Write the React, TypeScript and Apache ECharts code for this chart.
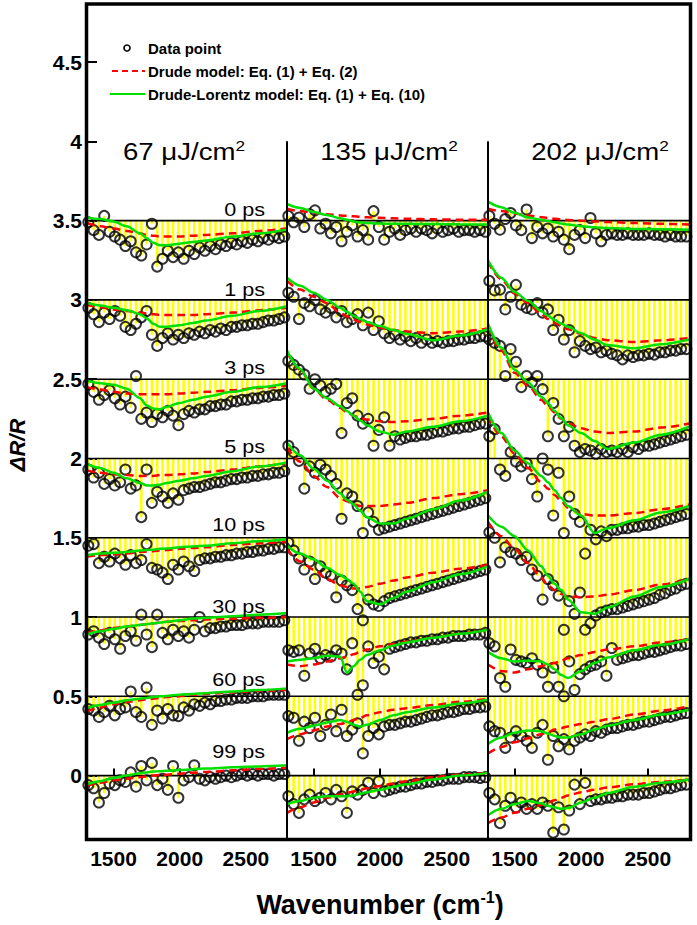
import React, { useEffect, useRef } from "react";
import * as echarts from "echarts";

// ---------------- data ----------------
const DELAYS = ["0 ps", "1 ps", "3 ps", "5 ps", "10 ps", "30 ps", "60 ps", "99 ps"];
const OFFSETS = [3.5, 3, 2.5, 2, 1.5, 1, 0.5, 0];
const FLUENCES = ["67", "135", "202"];
const X_TICKS = [1500, 2000, 2500];
const Y_TICKS = [0, 0.5, 1, 1.5, 2, 2.5, 3, 3.5, 4, 4.5];

// wavenumbers of the measured points (cm-1)
const X_DATA = [1310, 1350, 1390, 1430, 1470, 1510, 1550, 1590, 1630, 1670, 1710, 1750, 1790, 1830, 1870, 1910, 1950, 1990, 2030, 2070, 2110, 2150, 2190, 2230, 2270, 2310, 2350, 2390, 2430, 2470, 2510, 2550, 2590, 2630, 2670, 2710, 2750, 2790];
// wavenumbers of the model curves (cm-1)
const X_MODEL = [1300, 1400, 1500, 1600, 1700, 1750, 1800, 1850, 1900, 2000, 2100, 2200, 2400, 2600, 2810];

// data points, relative to each trace's baseline (0,1,3,5,10,30,60,99 ps)
const DATA_67 = [
  [-0.01, -0.06, -0.09, 0.03, -0.07, -0.10, -0.12, -0.16, -0.13, -0.20, -0.22, -0.15, -0.02, -0.29, -0.24, -0.19, -0.23, -0.20, -0.24, -0.19, -0.21, -0.17, -0.19, -0.16, -0.18, -0.15, -0.16, -0.14, -0.15, -0.13, -0.14, -0.12, -0.13, -0.11, -0.12, -0.10, -0.11, -0.10],
  [-0.05, -0.09, -0.14, -0.08, -0.12, -0.07, -0.10, -0.17, -0.19, -0.15, -0.11, -0.07, -0.22, -0.29, -0.24, -0.21, -0.25, -0.22, -0.24, -0.21, -0.22, -0.20, -0.21, -0.19, -0.20, -0.18, -0.19, -0.17, -0.17, -0.16, -0.16, -0.15, -0.15, -0.14, -0.13, -0.13, -0.12, -0.11],
  [-0.03, -0.08, -0.13, -0.10, -0.07, -0.12, -0.16, -0.11, -0.18, 0.02, -0.25, -0.21, -0.27, -0.22, -0.24, -0.20, -0.23, -0.29, -0.22, -0.20, -0.21, -0.19, -0.19, -0.17, -0.17, -0.16, -0.16, -0.14, -0.14, -0.13, -0.13, -0.12, -0.12, -0.11, -0.11, -0.10, -0.10, -0.09],
  [-0.07, -0.12, -0.09, -0.16, -0.13, -0.17, -0.15, -0.07, -0.19, -0.17, -0.37, -0.07, -0.28, -0.21, -0.24, -0.28, -0.22, -0.26, -0.20, -0.19, -0.18, -0.18, -0.17, -0.16, -0.15, -0.15, -0.14, -0.13, -0.13, -0.12, -0.12, -0.11, -0.11, -0.10, -0.10, -0.09, -0.09, -0.08],
  [-0.05, -0.04, -0.16, -0.12, -0.15, -0.10, -0.13, -0.17, -0.11, -0.16, -0.14, -0.04, -0.19, -0.20, -0.22, -0.26, -0.17, -0.20, -0.15, -0.18, -0.21, -0.14, -0.13, -0.13, -0.12, -0.12, -0.11, -0.11, -0.10, -0.10, -0.09, -0.09, -0.08, -0.08, -0.07, -0.07, -0.06, -0.06],
  [-0.11, -0.09, -0.13, -0.17, -0.10, -0.14, -0.20, -0.12, -0.09, -0.15, 0.015, -0.11, -0.19, 0.015, -0.10, -0.14, -0.08, -0.12, -0.09, -0.13, -0.08, 0.0, -0.09, -0.07, -0.07, -0.06, -0.06, -0.05, -0.05, -0.05, -0.04, -0.04, -0.04, -0.03, -0.03, -0.03, -0.03, -0.02],
  [-0.08, -0.09, -0.13, -0.10, -0.06, -0.12, -0.08, -0.07, 0.03, -0.10, -0.13, 0.055, -0.18, -0.09, -0.14, -0.08, -0.12, -0.125, -0.07, -0.09, -0.05, -0.06, -0.04, -0.05, -0.03, -0.03, -0.02, -0.02, -0.01, -0.01, -0.01, 0.0, 0.0, 0.0, 0.01, 0.01, 0.01, 0.01],
  [-0.06, -0.08, -0.17, -0.11, -0.05, -0.06, -0.03, -0.04, 0.02, -0.07, 0.06, -0.03, 0.08, -0.06, -0.02, -0.09, 0.06, -0.14, -0.03, -0.01, 0.065, -0.02, -0.03, -0.01, -0.02, -0.01, 0.0, -0.01, 0.0, 0.01, 0.0, 0.01, 0.0, 0.01, 0.01, 0.0, 0.01, 0.01],
];
const DRUDE_67 = [
  [-0.015, -0.035, -0.05, -0.065, -0.08, -0.09, -0.095, -0.1, -0.1, -0.1, -0.095, -0.09, -0.08, -0.065, -0.05],
  [-0.03, -0.045, -0.06, -0.07, -0.08, -0.085, -0.09, -0.095, -0.095, -0.095, -0.095, -0.09, -0.08, -0.065, -0.05],
  [-0.05, -0.065, -0.08, -0.09, -0.095, -0.095, -0.095, -0.095, -0.095, -0.09, -0.085, -0.08, -0.07, -0.055, -0.04],
  [-0.075, -0.09, -0.1, -0.105, -0.11, -0.11, -0.11, -0.105, -0.105, -0.1, -0.095, -0.085, -0.07, -0.05, -0.03],
  [-0.12, -0.11, -0.105, -0.1, -0.09, -0.088, -0.085, -0.08, -0.078, -0.07, -0.065, -0.06, -0.045, -0.035, -0.025],
  [-0.1, -0.085, -0.07, -0.06, -0.05, -0.045, -0.04, -0.035, -0.03, -0.025, -0.02, -0.015, -0.01, -0.005, 0.0],
  [-0.095, -0.07, -0.05, -0.035, -0.025, -0.02, -0.015, -0.01, -0.005, 0.0, 0.01, 0.015, 0.025, 0.035, 0.04],
  [-0.065, -0.045, -0.03, -0.02, -0.01, -0.005, 0.0, 0.003, 0.006, 0.012, 0.018, 0.023, 0.033, 0.042, 0.05],
];
const LORENTZ_67 = [
  [0.02, 0.01, -0.005, -0.035, -0.08, -0.11, -0.14, -0.155, -0.155, -0.145, -0.135, -0.125, -0.1, -0.08, -0.055],
  [-0.02, -0.035, -0.05, -0.065, -0.09, -0.115, -0.15, -0.17, -0.17, -0.16, -0.145, -0.13, -0.1, -0.07, -0.04],
  [-0.01, -0.025, -0.035, -0.06, -0.12, -0.165, -0.185, -0.19, -0.175, -0.15, -0.13, -0.11, -0.08, -0.05, -0.025],
  [-0.035, -0.06, -0.09, -0.125, -0.155, -0.17, -0.17, -0.165, -0.155, -0.14, -0.125, -0.11, -0.08, -0.05, -0.025],
  [-0.11, -0.1, -0.095, -0.09, -0.08, -0.078, -0.075, -0.07, -0.068, -0.06, -0.055, -0.05, -0.035, -0.022, -0.01],
  [-0.11, -0.09, -0.075, -0.06, -0.05, -0.045, -0.04, -0.035, -0.03, -0.02, -0.01, -0.005, 0.005, 0.015, 0.025],
  [-0.075, -0.055, -0.04, -0.025, -0.015, -0.01, -0.005, 0.0, 0.002, 0.01, 0.015, 0.02, 0.03, 0.04, 0.05],
  [-0.055, -0.035, -0.015, 0.0, 0.015, 0.02, 0.025, 0.028, 0.03, 0.035, 0.04, 0.045, 0.052, 0.058, 0.065],
];

const DATA_135 = [
  [0.03, -0.01, 0.02, -0.04, 0.04, 0.065, -0.05, -0.02, -0.08, -0.04, -0.13, -0.07, -0.03, -0.10, -0.06, -0.12, 0.06, -0.04, -0.12, -0.07, -0.05, -0.09, -0.06, -0.05, -0.07, -0.05, -0.06, -0.08, -0.05, -0.07, -0.06, -0.05, -0.07, -0.06, -0.06, -0.07, -0.06, -0.07],
  [0.045, 0.02, -0.12, -0.02, -0.04, 0.0, -0.06, -0.08, -0.05, -0.11, -0.07, -0.14, -0.12, -0.09, -0.16, -0.08, -0.19, -0.135, -0.21, -0.24, -0.22, -0.25, -0.23, -0.26, -0.24, -0.27, -0.25, -0.27, -0.26, -0.27, -0.26, -0.26, -0.25, -0.25, -0.24, -0.24, -0.23, -0.23],
  [0.115, 0.09, 0.06, 0.03, -0.06, 0.0, -0.04, -0.08, -0.06, -0.03, -0.34, -0.15, -0.12, -0.23, -0.28, -0.25, -0.42, -0.32, -0.24, -0.42, -0.36, -0.38, -0.37, -0.36, -0.36, -0.35, -0.35, -0.34, -0.33, -0.33, -0.32, -0.31, -0.31, -0.30, -0.30, -0.29, -0.28, -0.28],
  [0.08, 0.04, -0.015, -0.19, -0.05, -0.09, -0.04, -0.07, -0.11, -0.16, -0.38, -0.22, -0.24, -0.30, -0.47, -0.34, -0.40, -0.45, -0.44, -0.43, -0.42, -0.41, -0.40, -0.39, -0.38, -0.37, -0.36, -0.35, -0.34, -0.33, -0.32, -0.31, -0.30, -0.29, -0.28, -0.27, -0.26, -0.25],
  [-0.03, -0.08, -0.13, -0.20, -0.15, -0.26, -0.18, -0.22, -0.24, -0.375, -0.27, -0.30, -0.33, -0.45, -0.52, -0.39, -0.42, -0.43, -0.40, -0.38, -0.37, -0.36, -0.35, -0.34, -0.33, -0.32, -0.31, -0.30, -0.29, -0.28, -0.27, -0.26, -0.25, -0.24, -0.23, -0.22, -0.21, -0.20],
  [-0.21, -0.22, -0.21, -0.37, -0.23, -0.20, -0.26, -0.24, -0.25, -0.21, -0.23, -0.33, -0.165, -0.49, -0.43, -0.185, -0.29, -0.25, -0.33, -0.20, -0.19, -0.18, -0.17, -0.16, -0.16, -0.15, -0.15, -0.14, -0.14, -0.13, -0.13, -0.12, -0.12, -0.12, -0.11, -0.11, -0.11, -0.10],
  [-0.125, -0.135, -0.28, -0.16, -0.20, -0.135, -0.25, -0.18, -0.115, -0.22, -0.085, -0.25, -0.21, -0.17, -0.36, -0.25, -0.20, -0.24, -0.19, -0.18, -0.18, -0.17, -0.16, -0.16, -0.15, -0.14, -0.13, -0.12, -0.12, -0.11, -0.10, -0.10, -0.09, -0.08, -0.08, -0.07, -0.07, -0.065],
  [-0.13, -0.18, -0.235, -0.15, -0.12, -0.16, -0.14, -0.11, -0.15, -0.09, -0.13, -0.235, -0.10, -0.12, -0.09, -0.045, -0.11, -0.036, -0.10, -0.09, -0.08, -0.07, -0.07, -0.06, -0.05, -0.05, -0.04, -0.04, -0.03, -0.03, -0.02, -0.02, -0.02, -0.01, -0.01, -0.01, -0.015, -0.01],
];
const DRUDE_135 = [
  [0.075, 0.06, 0.05, 0.04, 0.033, 0.03, 0.027, 0.024, 0.021, 0.018, 0.015, 0.012, 0.008, 0.006, 0.005],
  [0.12, 0.065, 0.02, -0.02, -0.08, -0.105, -0.125, -0.14, -0.155, -0.175, -0.19, -0.2, -0.21, -0.2, -0.18],
  [0.17, 0.06, -0.06, -0.13, -0.18, -0.21, -0.23, -0.245, -0.255, -0.265, -0.27, -0.265, -0.25, -0.23, -0.21],
  [0.07, -0.02, -0.11, -0.18, -0.25, -0.27, -0.29, -0.3, -0.3, -0.3, -0.29, -0.28, -0.25, -0.225, -0.2],
  [-0.07, -0.15, -0.2, -0.26, -0.3, -0.31, -0.32, -0.32, -0.31, -0.29, -0.27, -0.25, -0.22, -0.195, -0.17],
  [-0.3, -0.31, -0.3, -0.28, -0.26, -0.25, -0.235, -0.22, -0.205, -0.185, -0.17, -0.155, -0.13, -0.105, -0.08],
  [-0.27, -0.24, -0.215, -0.19, -0.175, -0.165, -0.15, -0.135, -0.12, -0.1, -0.085, -0.075, -0.055, -0.035, -0.015],
  [-0.235, -0.2, -0.17, -0.14, -0.12, -0.11, -0.1, -0.09, -0.08, -0.065, -0.05, -0.035, -0.01, 0.005, 0.017],
];
const LORENTZ_135 = [
  [0.105, 0.08, 0.055, 0.035, 0.015, 0.005, -0.005, -0.012, -0.015, -0.018, -0.02, -0.02, -0.022, -0.023, -0.025],
  [0.14, 0.09, 0.045, 0.0, -0.05, -0.075, -0.1, -0.12, -0.14, -0.165, -0.19, -0.215, -0.255, -0.225, -0.185],
  [0.18, 0.065, -0.06, -0.12, -0.17, -0.2, -0.23, -0.26, -0.29, -0.33, -0.35, -0.33, -0.3, -0.265, -0.23],
  [0.1, 0.02, -0.065, -0.14, -0.22, -0.26, -0.29, -0.33, -0.37, -0.41, -0.41, -0.38, -0.32, -0.265, -0.21],
  [-0.05, -0.1, -0.135, -0.19, -0.235, -0.26, -0.29, -0.34, -0.4, -0.42, -0.38, -0.34, -0.28, -0.23, -0.18],
  [-0.28, -0.27, -0.26, -0.245, -0.25, -0.35, -0.31, -0.27, -0.24, -0.21, -0.18, -0.16, -0.13, -0.105, -0.08],
  [-0.23, -0.205, -0.185, -0.165, -0.15, -0.16, -0.18, -0.19, -0.18, -0.15, -0.12, -0.1, -0.07, -0.045, -0.02],
  [-0.18, -0.16, -0.14, -0.13, -0.13, -0.13, -0.125, -0.115, -0.105, -0.09, -0.07, -0.055, -0.025, 0.0, 0.017],
];

const DATA_202 = [
  [0.03, -0.02, -0.057, 0.01, 0.048, -0.03, -0.06, 0.07, -0.11, -0.04, -0.08, -0.05, -0.10, -0.07, -0.12, -0.18, -0.09, -0.06, -0.11, 0.017, -0.08, -0.13, -0.09, -0.08, -0.09, -0.09, -0.08, -0.09, -0.09, -0.09, -0.08, -0.09, -0.09, -0.10, -0.09, -0.10, -0.10, -0.10],
  [0.12, 0.06, 0.065, -0.06, 0.02, 0.095, -0.03, -0.05, -0.06, -0.02, -0.08, -0.06, -0.19, -0.125, -0.25, -0.19, -0.33, -0.26, -0.29, -0.31, -0.30, -0.33, -0.32, -0.34, -0.35, -0.375, -0.35, -0.36, -0.35, -0.35, -0.34, -0.345, -0.33, -0.33, -0.32, -0.32, -0.31, -0.31],
  [0.25, 0.23, 0.21, 0.02, 0.19, 0.11, -0.05, 0.02, -0.02, 0.02, -0.063, -0.36, -0.15, -0.25, -0.36, -0.30, -0.42, -0.46, -0.44, -0.45, -0.47, -0.44, -0.46, -0.45, -0.46, -0.44, -0.46, -0.43, -0.44, -0.42, -0.42, -0.41, -0.40, -0.39, -0.38, -0.37, -0.36, -0.35],
  [0.14, 0.185, -0.07, -0.11, 0.04, -0.02, -0.05, -0.03, -0.13, -0.24, 0.0, -0.07, -0.36, -0.09, -0.47, -0.24, -0.35, -0.40, -0.60, -0.45, -0.51, -0.46, -0.49, -0.45, -0.45, -0.44, -0.44, -0.43, -0.43, -0.42, -0.42, -0.41, -0.40, -0.39, -0.38, -0.37, -0.36, -0.35],
  [0.034, 0.0, -0.155, -0.06, -0.09, -0.10, -0.14, -0.12, -0.20, -0.24, -0.39, -0.26, -0.30, -0.365, -0.58, -0.40, -0.48, -0.345, -0.58, -0.54, -0.49, -0.47, -0.46, -0.45, -0.45, -0.44, -0.43, -0.42, -0.41, -0.40, -0.39, -0.38, -0.36, -0.35, -0.33, -0.32, -0.30, -0.29],
  [-0.165, -0.185, -0.385, -0.44, -0.205, -0.27, -0.28, -0.29, -0.26, -0.30, -0.35, -0.44, -0.32, -0.44, -0.5, -0.28, -0.46, -0.36, -0.33, -0.31, -0.30, -0.28, -0.37, -0.195, -0.27, -0.26, -0.25, -0.24, -0.24, -0.23, -0.22, -0.22, -0.21, -0.20, -0.19, -0.18, -0.18, -0.17],
  [-0.19, -0.22, -0.23, -0.325, -0.26, -0.22, -0.25, -0.28, -0.325, -0.23, -0.18, -0.4, -0.25, -0.315, -0.27, -0.335, -0.28, -0.26, -0.24, -0.25, -0.22, -0.23, -0.21, -0.2, -0.2, -0.19, -0.18, -0.18, -0.17, -0.16, -0.16, -0.15, -0.14, -0.13, -0.13, -0.12, -0.11, -0.105],
  [-0.11, -0.15, -0.3, -0.19, -0.14, -0.2, -0.17, -0.21, -0.18, -0.21, -0.17, -0.19, -0.36, -0.20, -0.34, -0.22, -0.057, -0.18, -0.046, -0.16, -0.15, -0.15, -0.14, -0.14, -0.13, -0.13, -0.12, -0.12, -0.12, -0.11, -0.11, -0.10, -0.09, -0.08, -0.08, -0.07, -0.06, -0.057],
];
const DRUDE_202 = [
  [0.075, 0.06, 0.045, 0.032, 0.022, 0.017, 0.012, 0.008, 0.004, 0.0, -0.005, -0.009, -0.015, -0.02, -0.025],
  [0.24, 0.13, 0.04, -0.02, -0.09, -0.12, -0.145, -0.165, -0.185, -0.215, -0.24, -0.255, -0.265, -0.255, -0.24],
  [0.33, 0.18, 0.04, -0.04, -0.13, -0.17, -0.21, -0.25, -0.28, -0.31, -0.33, -0.34, -0.33, -0.305, -0.28],
  [0.27, 0.14, 0.03, -0.06, -0.15, -0.19, -0.23, -0.27, -0.31, -0.35, -0.36, -0.36, -0.345, -0.32, -0.29],
  [0.1, 0.01, -0.07, -0.16, -0.25, -0.3, -0.33, -0.355, -0.37, -0.375, -0.37, -0.36, -0.33, -0.295, -0.26],
  [-0.3, -0.34, -0.35, -0.33, -0.31, -0.3, -0.29, -0.275, -0.26, -0.24, -0.22, -0.205, -0.185, -0.16, -0.14],
  [-0.36, -0.32, -0.29, -0.265, -0.24, -0.225, -0.21, -0.2, -0.19, -0.175, -0.16, -0.145, -0.115, -0.09, -0.063],
  [-0.3, -0.265, -0.235, -0.21, -0.185, -0.17, -0.155, -0.14, -0.125, -0.105, -0.09, -0.075, -0.055, -0.04, -0.025],
];
const LORENTZ_202 = [
  [0.12, 0.085, 0.05, 0.02, 0.005, -0.002, -0.01, -0.018, -0.025, -0.035, -0.042, -0.047, -0.052, -0.055, -0.057],
  [0.25, 0.14, 0.05, -0.005, -0.07, -0.1, -0.125, -0.15, -0.17, -0.21, -0.25, -0.285, -0.305, -0.28, -0.25],
  [0.35, 0.2, 0.06, -0.02, -0.11, -0.15, -0.2, -0.245, -0.29, -0.34, -0.39, -0.44, -0.4, -0.35, -0.3],
  [0.29, 0.16, 0.05, -0.03, -0.11, -0.15, -0.2, -0.25, -0.3, -0.36, -0.47, -0.44, -0.39, -0.34, -0.3],
  [0.14, 0.07, 0.01, -0.08, -0.18, -0.24, -0.29, -0.33, -0.39, -0.47, -0.48, -0.44, -0.37, -0.31, -0.26],
  [-0.22, -0.26, -0.28, -0.275, -0.28, -0.3, -0.33, -0.365, -0.385, -0.34, -0.29, -0.255, -0.21, -0.175, -0.14],
  [-0.3, -0.26, -0.23, -0.215, -0.22, -0.235, -0.25, -0.26, -0.26, -0.24, -0.21, -0.185, -0.15, -0.115, -0.085],
  [-0.25, -0.21, -0.18, -0.16, -0.175, -0.19, -0.2, -0.21, -0.205, -0.17, -0.14, -0.11, -0.07, -0.045, -0.025],
];

// ---------------- layout / style ----------------
const W = 697;
const H = 925;
const GRID_LEFT = [87, 287, 488];
const GRID_WIDTH = [200, 201, 201];
const GRID_TOP = 5;
const GRID_HEIGHT = 834;
const X_MIN = 1300;
const X_MAX = 2810;
const Y_MIN = -0.4;
const Y_MAX = 4.86;
const DIVIDER_TOP = 4.0;
const LABEL_X = 2645;
const LABEL_LIFT = [0.07, 0.065, 0.075, 0.075, 0.085, 0.065, 0.105, 0.15];
const FONT = '"Liberation Sans", Arial, Helvetica, sans-serif';
const RED = "#ff0000";
const GREEN = "#00e000";
const YELLOW = "#ffff00";

function buildOption(): any {
  const panels = [
    { data: DATA_67, drude: DRUDE_67, lor: LORENTZ_67 },
    { data: DATA_135, drude: DRUDE_135, lor: LORENTZ_135 },
    { data: DATA_202, drude: DRUDE_202, lor: LORENTZ_202 },
  ];

  const grid = GRID_LEFT.map((l, i) => ({
    left: l,
    top: GRID_TOP,
    width: GRID_WIDTH[i],
    height: GRID_HEIGHT,
    containLabel: false,
  }));

  const xAxis = panels.map((_, i) => ({
    type: "value",
    gridIndex: i,
    min: X_MIN,
    max: X_MAX,
    axisLine: { show: false },
    splitLine: { show: false },
    axisTick: {
      show: true,
      inside: true,
      length: 7,
      customValues: X_TICKS,
      lineStyle: { color: "#000", width: 2 },
    },
    axisLabel: {
      show: true,
      customValues: X_TICKS,
      color: "#000",
      fontFamily: FONT,
      fontWeight: "bold",
      fontSize: 21,
      margin: 9,
      formatter: (v: number) => String(v),
    },
  }));

  const yAxis = panels.map((_, i) => ({
    type: "value",
    gridIndex: i,
    min: Y_MIN,
    max: Y_MAX,
    axisLine: { show: false },
    splitLine: { show: false },
    axisTick:
      i === 0
        ? {
            show: true,
            inside: true,
            length: 10,
            customValues: Y_TICKS,
            lineStyle: { color: "#000", width: 2 },
          }
        : { show: false },
    axisLabel:
      i === 0
        ? {
            show: true,
            customValues: Y_TICKS,
            color: "#000",
            fontFamily: FONT,
            fontWeight: "bold",
            fontSize: 21,
            margin: 5,
            formatter: (v: number) => String(v),
          }
        : { show: false },
  }));

  const series: any[] = [];

  panels.forEach((p, pi) => {
    // yellow drop lines from each data point to its trace baseline
    const drops: number[][] = [];
    p.data.forEach((arr, ti) =>
      arr.forEach((d, k) => drops.push([X_DATA[k], OFFSETS[ti] + d, OFFSETS[ti]]))
    );
    series.push({
      type: "custom",
      coordinateSystem: "cartesian2d",
      xAxisIndex: pi,
      yAxisIndex: pi,
      data: drops,
      encode: { x: 0, y: [1, 2] },
      silent: true,
      z: 1,
      renderItem: (params: any, api: any) => {
        const a = api.coord([api.value(0), api.value(2)]);
        const b = api.coord([api.value(0), api.value(1)]);
        return {
          type: "line",
          shape: { x1: a[0], y1: a[1], x2: b[0], y2: b[1] },
          style: { stroke: YELLOW, lineWidth: 2.5 },
        };
      },
    });

    // baselines
    OFFSETS.forEach((o) => {
      series.push({
        type: "line",
        xAxisIndex: pi,
        yAxisIndex: pi,
        data: [
          [X_MIN, o],
          [X_MAX, o],
        ],
        symbol: "none",
        silent: true,
        z: 2,
        lineStyle: { color: "#000", width: 1.6 },
      });
    });

    // data points
    const pts: number[][] = [];
    p.data.forEach((arr, ti) => arr.forEach((d, k) => pts.push([X_DATA[k], OFFSETS[ti] + d])));
    series.push({
      type: "scatter",
      xAxisIndex: pi,
      yAxisIndex: pi,
      data: pts,
      symbol: "circle",
      symbolSize: 10,
      silent: true,
      z: 3,
      itemStyle: { color: "rgba(0,0,0,0)", borderColor: "#000", borderWidth: 2 },
    });

    // Drude model
    p.drude.forEach((arr, ti) => {
      series.push({
        type: "line",
        xAxisIndex: pi,
        yAxisIndex: pi,
        data: arr.map((d, k) => [X_MODEL[k], OFFSETS[ti] + d]),
        symbol: "none",
        smooth: 0.3,
        smoothMonotone: "x",
        silent: true,
        z: 4,
        lineStyle: { color: RED, width: 2.5, type: [8, 5] },
      });
    });

    // Drude-Lorentz model
    p.lor.forEach((arr, ti) => {
      series.push({
        type: "line",
        xAxisIndex: pi,
        yAxisIndex: pi,
        data: arr.map((d, k) => [X_MODEL[k], OFFSETS[ti] + d]),
        symbol: "none",
        smooth: 0.3,
        smoothMonotone: "x",
        silent: true,
        z: 5,
        lineStyle: { color: GREEN, width: 2.5 },
      });
    });

    // panel divider
    if (pi > 0) {
      series.push({
        type: "line",
        xAxisIndex: pi,
        yAxisIndex: pi,
        data: [
          [X_MIN, DIVIDER_TOP],
          [X_MIN, Y_MIN],
        ],
        symbol: "none",
        clip: false,
        silent: true,
        z: 6,
        lineStyle: { color: "#000", width: 2 },
      });
    }
  });

  // delay labels in the first panel
  series.push({
    type: "custom",
    coordinateSystem: "cartesian2d",
    xAxisIndex: 0,
    yAxisIndex: 0,
    data: DELAYS.map((t, i) => [LABEL_X, OFFSETS[i] + LABEL_LIFT[i]]),
    encode: { x: 0, y: 1 },
    silent: true,
    z: 7,
    clip: false,
    renderItem: (params: any, api: any) => {
      const pt = api.coord([api.value(0), api.value(1)]);
      return {
        type: "text",
        x: pt[0],
        y: pt[1],
        scaleX: 1.2,
        style: {
          text: DELAYS[params.dataIndex],
          fill: "#000",
          align: "right",
          verticalAlign: "middle",
          fontSize: 18,
          fontFamily: FONT,
        },
      };
    },
  });

  const titleCenters = [184, 389, 600];
  const graphic: any[] = [];
  FLUENCES.forEach((f, i) => {
    graphic.push({
      type: "text",
      x: titleCenters[i],
      y: 152,
      z: 50,
      scaleX: 1.15,
      style: {
        text: f + " \u03bcJ/cm{sup|2}",
        fill: "#000",
        fontSize: 24,
        fontFamily: FONT,
        align: "center",
        verticalAlign: "middle",
        lineHeight: 28,
        rich: {
          sup: { fontSize: 15, fontFamily: FONT, verticalAlign: "top", lineHeight: 15, fill: "#000" },
        },
      },
    });
  });

  // axis titles
  graphic.push({
    type: "text",
    x: 380,
    y: 905,
    z: 50,
    style: {
      text: "Wavenumber (cm{sup|-1})",
      fill: "#000",
      fontSize: 27,
      fontWeight: "bold",
      fontFamily: FONT,
      align: "center",
      verticalAlign: "middle",
      lineHeight: 32,
      rich: {
        sup: { fontSize: 16, fontWeight: "bold", fontFamily: FONT, verticalAlign: "top", lineHeight: 16, fill: "#000" },
      },
    },
  });
  graphic.push({
    type: "text",
    x: 17,
    y: 445,
    rotation: Math.PI / 2,
    z: 50,
    style: {
      text: "\u0394R/R",
      fill: "#000",
      fontSize: 22,
      fontWeight: "bold",
      fontStyle: "italic",
      fontFamily: FONT,
      align: "center",
      verticalAlign: "middle",
    },
  });

  // legend
  graphic.push({
    type: "circle",
    z: 50,
    shape: { cx: 127, cy: 48, r: 3 },
    style: { fill: "none", stroke: "#000", lineWidth: 1.6 },
  });
  graphic.push({
    type: "line",
    z: 50,
    shape: { x1: 112, y1: 71, x2: 145, y2: 71 },
    style: { stroke: RED, lineWidth: 2, lineDash: [6, 4] },
  });
  graphic.push({
    type: "line",
    z: 50,
    shape: { x1: 110, y1: 94, x2: 145, y2: 94 },
    style: { stroke: GREEN, lineWidth: 2 },
  });
  const legendTexts = ["Data point", "Drude model: Eq. (1) + Eq. (2)", "Drude-Lorentz model: Eq. (1) + Eq. (10)"];
  const legendY = [48, 71, 94];
  legendTexts.forEach((t, i) => {
    graphic.push({
      type: "text",
      x: 148,
      y: legendY[i],
      z: 50,
      style: {
        text: t,
        fill: "#000",
        fontSize: 15,
        fontWeight: "bold",
        fontFamily: FONT,
        align: "left",
        verticalAlign: "middle",
      },
    });
  });

  // outer frame
  graphic.push({
    type: "rect",
    z: 60,
    shape: { x: 86.5, y: 4, width: 604, height: 835.5 },
    style: { fill: "none", stroke: "#000", lineWidth: 3.5 },
  });

  return {
    animation: false,
    backgroundColor: "#ffffff",
    grid,
    xAxis,
    yAxis,
    series,
    graphic: { elements: graphic },
  };
}

export default function App() {
  const ref = useRef<HTMLDivElement>(null);
  useEffect(() => {
    if (!ref.current) return;
    const chart = echarts.init(ref.current, undefined, { renderer: "svg", width: W, height: H });
    chart.setOption(buildOption());
    return () => chart.dispose();
  }, []);
  return (
    <div
      ref={ref}
      style={{ position: "fixed", left: 0, top: 0, width: W, height: H, background: "#fff" }}
    />
  );
}
